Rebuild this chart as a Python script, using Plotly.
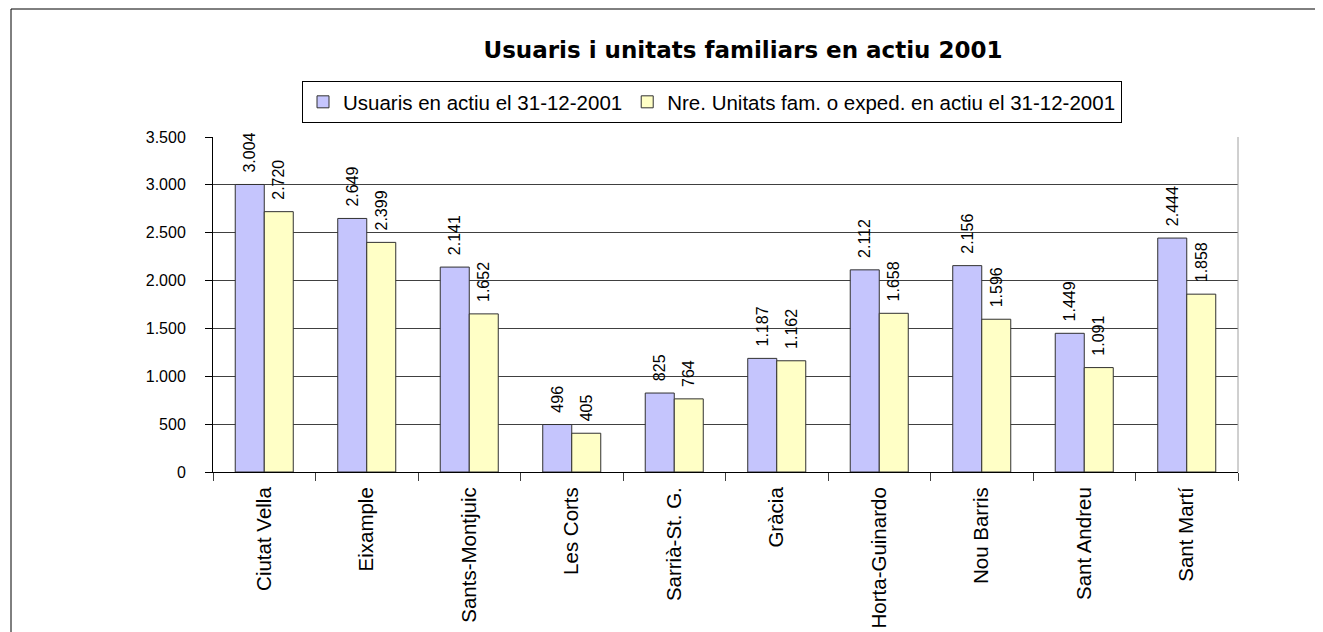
import plotly.graph_objects as go

# Districtes i valors (llegits del gràfic)
districtes = [
    "Ciutat Vella", "Eixample", "Sants-Montjuic", "Les Corts", "Sarrià-St. G.",
    "Gràcia", "Horta-Guinardo", "Nou Barris", "Sant Andreu", "Sant Martí",
]
usuaris = [3004, 2649, 2141, 496, 825, 1187, 2112, 2156, 1449, 2444]
unitats = [2720, 2399, 1652, 405, 764, 1162, 1658, 1596, 1091, 1858]

nom_usuaris = "Usuaris en actiu el 31-12-2001"
nom_unitats = "Nre. Unitats fam. o exped. en actiu el 31-12-2001"
titol = "Usuaris i unitats familiars en actiu 2001"
y_ticks = [0, 500, 1000, 1500, 2000, 2500, 3000, 3500]

SANS = "Liberation Sans, Arial, sans-serif"

# La pàgina té 8 px de marge al body: la figura es fa 8 px més petita.
W, H = 1315, 624
L, R, T, B = 205, 85, 129, 160
PW, PH = W - L - R, H - T - B


def px_x(x):
    # posició horitzontal de pàgina -> coordenada "paper"
    return (x - 8 - L) / PW


def px_y(y):
    return (H - B - (y - 8)) / PH


fig = go.Figure()
for nom, valors, color in [
    (nom_usuaris, usuaris, "#C5C5FD"),
    (nom_unitats, unitats, "#FFFFC6"),
]:
    fig.add_bar(
        x=districtes,
        y=valors,
        name=nom,
        marker=dict(color=color, line=dict(color="#303030", width=1)),
        texttemplate="\u00a0\u00a0%{y:,}",
        textposition="outside",
        textangle=-90,
        constraintext="none",
        cliponaxis=False,
        textfont=dict(family=SANS, size=16, color="black"),
    )

fig.update_layout(
    width=W,
    height=H,
    margin=dict(l=L, r=R, t=T, b=B, autoexpand=False),
    paper_bgcolor="white",
    plot_bgcolor="white",
    separators=",.",
    barmode="group",
    bargap=0.434,
    bargroupgap=0,
    title=dict(
        text="<b>" + titol + "</b>",
        x=(743 - 8) / W,
        xanchor="center",
        y=1 - (50 - 8) / H,
        yanchor="middle",
        font=dict(family="DejaVu Sans", size=23, color="black"),
    ),
    legend=dict(
        orientation="h",
        x=px_x(712),
        xanchor="center",
        y=px_y(81),
        yanchor="top",
        bordercolor="black",
        borderwidth=1,
        font=dict(family=SANS, size=20.5, color="black"),
        itemwidth=30,
    ),
    showlegend=True,
)

fig.update_xaxes(
    automargin=False,
    showline=True,
    linecolor="black",
    linewidth=1,
    ticks="outside",
    tickson="boundaries",
    ticklen=8,
    tickcolor="#404040",
    tickangle=-90,
    ticklabelstandoff=6,
    tickfont=dict(family=SANS, size=20.5, color="black"),
    showgrid=False,
)
fig.update_yaxes(
    automargin=False,
    range=[0, 3500],
    tickvals=y_ticks,
    tickformat=",",
    showline=True,
    linecolor="black",
    linewidth=1,
    ticks="outside",
    ticklen=7,
    tickcolor="black",
    ticklabelstandoff=16,
    tickfont=dict(family=SANS, size=16, color="black"),
    showgrid=True,
    gridcolor="#404040",
    gridwidth=1,
    zeroline=False,
)

# Vora dreta de l'àrea de traçat i marc exterior
fig.add_shape(type="line", xref="paper", yref="paper", x0=1, x1=1, y0=0, y1=1,
              line=dict(color="#A0A0A0", width=1))
fig.add_shape(type="rect", xref="paper", yref="paper",
              x0=px_x(11), x1=1.2, y0=-0.6, y1=px_y(9),
              line=dict(color="black", width=1), layer="below")

fig.write_html("out.html")
